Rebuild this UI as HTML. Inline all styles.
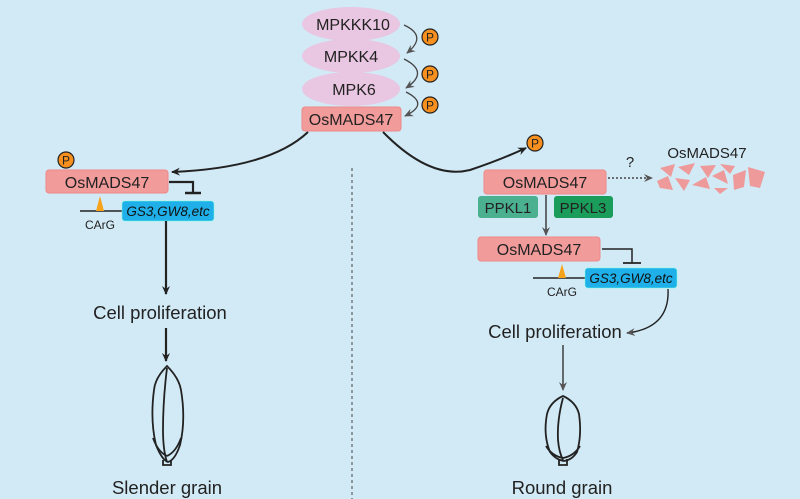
<!DOCTYPE html>
<html><head><meta charset="utf-8"><style>
html,body{margin:0;padding:0;background:#d2eaf6;}
svg{display:block;font-family:"Liberation Sans",Arial,sans-serif;}
</style></head><body>
<svg width="800" height="499" viewBox="0 0 800 499">
<defs>
<marker id="a" markerWidth="10" markerHeight="10" refX="8" refY="5" orient="auto" markerUnits="userSpaceOnUse"><path d="M0,1 L9,5 L0,9 L3,5 Z" fill="#222"/></marker>
<marker id="g" markerWidth="10" markerHeight="10" refX="8" refY="5" orient="auto" markerUnits="userSpaceOnUse"><path d="M0,1 L9,5 L0,9 L3,5 Z" fill="#555"/></marker>
<g id="P"><circle r="8" fill="#f7901e" stroke="#222" stroke-width="1.2"/><text y="4.5" text-anchor="middle" font-size="12" fill="#222">P</text></g>
</defs>
<rect width="800" height="499" fill="#d2eaf6"/>
<ellipse cx="351" cy="24" rx="49" ry="17" fill="#e9c6e1"/>
<ellipse cx="351" cy="56" rx="49" ry="17" fill="#e9c6e1"/>
<ellipse cx="351" cy="89" rx="49" ry="17" fill="#e9c6e1"/>
<text x="353" y="30" text-anchor="middle" font-size="16" fill="#222">MPKKK10</text>
<text x="351" y="62" text-anchor="middle" font-size="16" fill="#222">MPKK4</text>
<text x="354" y="95" text-anchor="middle" font-size="16" fill="#222">MPK6</text>
<rect x="302" y="107" width="99" height="24" rx="3" fill="#f29b9b" stroke="#e88" stroke-width="1"/>
<text x="351" y="125" text-anchor="middle" font-size="16" fill="#222">OsMADS47</text>
<path d="M404,25 Q428,36 407,53" fill="none" stroke="#444" stroke-width="1.3" marker-end="url(#g)"/>
<path d="M404,59 Q430,72 406,88" fill="none" stroke="#444" stroke-width="1.3" marker-end="url(#g)"/>
<path d="M406,92 Q430,104 405,116" fill="none" stroke="#444" stroke-width="1.3" marker-end="url(#g)"/>
<use href="#P" x="430" y="37"/><use href="#P" x="430" y="74"/><use href="#P" x="430" y="105"/>
<path d="M308,132 Q270,168 172,172" fill="none" stroke="#222" stroke-width="2" marker-end="url(#a)"/>
<path d="M383,132 Q430,180 470,170 Q500,160 526,148" fill="none" stroke="#222" stroke-width="2" marker-end="url(#a)"/>
<use href="#P" x="535" y="143"/>
<line x1="352" y1="168" x2="352" y2="499" stroke="#444" stroke-width="1" stroke-dasharray="3,3"/>
<use href="#P" x="66" y="160"/>
<rect x="46" y="170" width="122" height="23" rx="3" fill="#f29b9b" stroke="#e88" stroke-width="1"/>
<text x="107" y="188" text-anchor="middle" font-size="16" fill="#222">OsMADS47</text>
<path d="M169,182 H193 V193" fill="none" stroke="#222" stroke-width="2.2"/>
<line x1="185" y1="193" x2="201" y2="193" stroke="#222" stroke-width="2.5"/>
<line x1="80" y1="211" x2="123" y2="211" stroke="#222" stroke-width="1.5"/>
<path d="M100,196 L96,211 L104,211 Z" fill="#f7a21b"/>
<text x="100" y="229" text-anchor="middle" font-size="12" fill="#222">CArG</text>
<rect x="122" y="201" width="92" height="20" rx="3" fill="#1fb0ea" stroke="#7fd" stroke-width="0.5"/>
<text x="168" y="216" text-anchor="middle" font-size="13.5" font-style="italic" fill="#111">GS3,GW8,etc</text>
<line x1="166" y1="221" x2="166" y2="294" stroke="#222" stroke-width="2.2" marker-end="url(#a)"/>
<text x="160" y="319" text-anchor="middle" font-size="18.5" fill="#222">Cell proliferation</text>
<line x1="166" y1="328" x2="166" y2="361" stroke="#222" stroke-width="2.2" marker-end="url(#a)"/>
<g fill="none" stroke="#222" stroke-width="1.8">
<path d="M167,366 Q155,378 154,390 Q150,420 156,445 Q162,460 168,462 Q175,460 180,445 Q186,420 181,390 Q179,378 167,366 Z"/>
<path d="M167,368 Q163,400 163,430 Q163,450 167,462"/>
<path d="M153,438 Q158,452 167,456 M181,438 Q176,452 167,456"/>
<path d="M163,460 v5 h8 v-5"/>
</g>
<text x="167" y="494" text-anchor="middle" font-size="18.5" fill="#222">Slender grain</text>
<rect x="484" y="170" width="122" height="24" rx="3" fill="#f29b9b" stroke="#e88" stroke-width="1"/>
<text x="545" y="188" text-anchor="middle" font-size="16" fill="#222">OsMADS47</text>
<line x1="608" y1="178" x2="652" y2="178" stroke="#444" stroke-width="1.5" stroke-dasharray="2,2" marker-end="url(#g)"/>
<text x="630" y="167" text-anchor="middle" font-size="15" fill="#222">?</text>
<text x="707" y="158" text-anchor="middle" font-size="15" fill="#222">OsMADS47</text>
<g fill="#ee9a9a">
<path d="M660,168 L675,164 L671,177 Z"/><path d="M657,181 L668,176 L673,190 L660,188 Z"/>
<path d="M678,167 L695,163 L689,175 Z"/><path d="M675,178 L690,180 L684,191 Z"/>
<path d="M692,185 L706,177 L710,189 Z"/><path d="M700,166 L716,165 L708,178 Z"/>
<path d="M712,176 L724,170 L728,184 Z"/><path d="M714,188 L728,188 L720,194 Z"/>
<path d="M720,164 L735,166 L730,174 Z"/><path d="M733,175 L746,170 L744,187 L734,190 Z"/>
<path d="M748,167 L765,172 L760,188 L750,186 Z"/>
</g>
<rect x="478" y="196" width="60" height="22" rx="3" fill="#4bb08f"/>
<text x="508" y="213" text-anchor="middle" font-size="15" fill="#222">PPKL1</text>
<rect x="554" y="196" width="59" height="22" rx="3" fill="#1a9c5a"/>
<text x="583" y="213" text-anchor="middle" font-size="15" fill="#222">PPKL3</text>
<line x1="546" y1="195" x2="546" y2="235" stroke="#333" stroke-width="1.4" marker-end="url(#g)"/>
<rect x="478" y="237" width="122" height="24" rx="3" fill="#f29b9b" stroke="#e88" stroke-width="1"/>
<text x="539" y="255" text-anchor="middle" font-size="16" fill="#222">OsMADS47</text>
<path d="M602,249 H632 V263" fill="none" stroke="#222" stroke-width="1.5"/>
<line x1="623" y1="263" x2="641" y2="263" stroke="#222" stroke-width="1.8"/>
<line x1="533" y1="278" x2="586" y2="278" stroke="#222" stroke-width="1.5"/>
<path d="M562,264 L558,278 L566,278 Z" fill="#f7a21b"/>
<text x="562" y="296" text-anchor="middle" font-size="12" fill="#222">CArG</text>
<rect x="585" y="268" width="92" height="20" rx="3" fill="#1fb0ea" stroke="#7fd" stroke-width="0.5"/>
<text x="631" y="283" text-anchor="middle" font-size="13.5" font-style="italic" fill="#111">GS3,GW8,etc</text>
<path d="M668,289 Q670,328 627,333" fill="none" stroke="#222" stroke-width="1.4" marker-end="url(#g)"/>
<text x="555" y="338" text-anchor="middle" font-size="18.5" fill="#222">Cell proliferation</text>
<line x1="563" y1="345" x2="563" y2="390" stroke="#333" stroke-width="1.4" marker-end="url(#g)"/>
<g fill="none" stroke="#222" stroke-width="1.8">
<path d="M563,396 Q550,402 547,414 Q543,435 550,452 Q556,460 564,461 Q572,460 577,452 Q582,435 579,414 Q576,402 563,396 Z"/>
<path d="M563,398 Q557,420 558,440 Q559,452 563,460"/>
<path d="M546,446 Q552,456 563,458 M580,446 Q574,456 563,458"/>
<path d="M559,459 v6 h8 v-6"/>
</g>
<text x="562" y="494" text-anchor="middle" font-size="18.5" fill="#222">Round grain</text>
</svg>
</body></html>
